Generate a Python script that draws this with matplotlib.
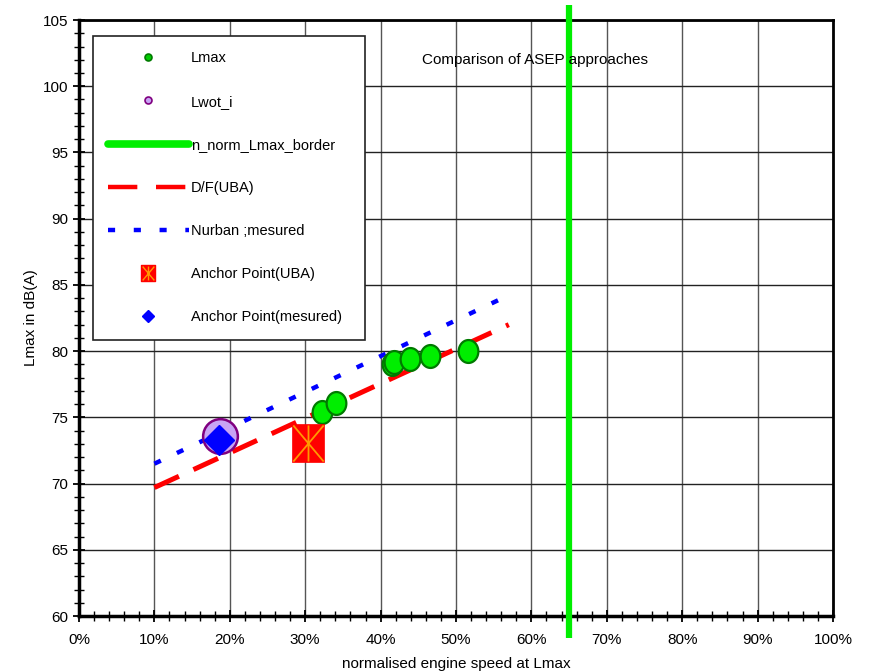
import numpy as np
import matplotlib
matplotlib.use("Agg")
import matplotlib.pyplot as plt
from matplotlib.path import Path
from matplotlib.lines import Line2D
from matplotlib.ticker import MultipleLocator, FuncFormatter

plt.rcParams['font.family'] = ['Liberation Sans', 'DejaVu Sans']

# --- data -------------------------------------------------------------
lmax_speed = [32.2, 34.1, 41.5, 41.8, 43.9, 46.6, 51.6]      # % normalised engine speed
lmax_level = [75.4, 76.1, 79.0, 79.2, 79.4, 79.6, 80.0]      # dB(A)

lwot_speed = [18.7]
lwot_level = [73.6]

border_speed = 65.0                                           # n_norm_Lmax_border

uba_speed = [10.0, 57.0]                                      # D/F(UBA) line
uba_level = [69.7, 82.0]

nurban_speed = [10.0, 55.8]                                   # Nurban ;mesured line
nurban_level = [71.5, 83.9]

anchor_uba_speed = [30.4]
anchor_uba_level = [73.1]

anchor_meas_speed = [18.6]
anchor_meas_level = [73.3]

# --- marker shapes ----------------------------------------------------
t = np.linspace(0, 2 * np.pi, 60)
ellipse = Path(np.column_stack([0.86 * np.cos(t), np.sin(t)]), closed=True)
rect = Path([[-0.42, -0.5], [0.42, -0.5], [0.42, 0.5], [-0.42, 0.5], [-0.42, -0.5]], closed=True)
star = Path([[-0.42, 0.5], [0.42, -0.5], [0.42, 0.5], [-0.42, -0.5], [0, 0.5], [0, -0.5]],
            [Path.MOVETO, Path.LINETO, Path.MOVETO, Path.LINETO, Path.MOVETO, Path.LINETO])

fig = plt.figure(figsize=(8.69, 6.72), dpi=100)
ax = fig.add_axes([0.0909, 0.0833, 0.8677, 0.8869])

ax.set_xlim(0, 100)
ax.set_ylim(60, 105)

# grid
ax.xaxis.set_major_locator(MultipleLocator(10))
ax.xaxis.set_minor_locator(MultipleLocator(2))
ax.yaxis.set_major_locator(MultipleLocator(5))
ax.yaxis.set_minor_locator(MultipleLocator(1))
ax.xaxis.grid(True, which='major', color='#555555', lw=1.0)
ax.yaxis.grid(True, which='major', color='#222222', lw=1.0)
ax.set_axisbelow(True)

ax.xaxis.set_major_formatter(FuncFormatter(lambda v, p: f"{v:.0f}%"))
ax.tick_params(which='major', direction='inout', length=9, width=1.3, labelsize=11, pad=8)
ax.tick_params(which='minor', direction='inout', length=7, width=1.0)
ax.tick_params(axis='y', pad=3)
for side in ['left', 'bottom']:
    ax.spines[side].set_linewidth(2.5)
for side in ['top', 'right']:
    ax.spines[side].set_linewidth(2.0)

# lines
ax.axvline(border_speed, ymin=-0.037, ymax=1.025, color='#00ee00', lw=4.5,
           solid_capstyle='butt', clip_on=False, zorder=3)
ax.plot(uba_speed, uba_level, color='#ff0000', lw=3.6, dashes=(5.4, 3.2), zorder=3)
ax.plot(nurban_speed, nurban_level, color='#0000ff', lw=3.2, dashes=(1.6, 4.0), zorder=3)

# points
ax.plot(lmax_speed, lmax_level, ls='none', marker=ellipse, ms=16.5,
        mfc='#00ee00', mec='#007a00', mew=1.6, zorder=4)
ax.plot(lwot_speed, lwot_level, ls='none', marker='o', ms=25,
        mfc='#c8a4f4', mec='#800080', mew=1.8, zorder=4)
ax.plot(anchor_meas_speed, anchor_meas_level, ls='none', marker='D', ms=15.5,
        mfc='#0000ff', mec='#0000ff', zorder=5)
ax.plot(anchor_uba_speed, anchor_uba_level, ls='none', marker=rect, ms=28,
        mfc='#ff0000', mec='#ff0000', mew=0.5, zorder=4)
ax.plot(anchor_uba_speed, anchor_uba_level, ls='none', marker=star, ms=26,
        mfc='none', mec='#ff9900', mew=1.3, zorder=5)

ax.text(60.5, 102, "Comparison of ASEP approaches", ha='center', va='center', fontsize=11)

ax.set_xlabel("normalised engine speed at Lmax", fontsize=11, labelpad=7)
ax.set_ylabel("Lmax in dB(A)", fontsize=11, labelpad=4)

# legend
h_lmax = Line2D([], [], ls='none', marker='o', ms=5, mfc='#00cc00', mec='#007a00', mew=1.2)
h_lwot = Line2D([], [], ls='none', marker='o', ms=5, mfc='#c8a4f4', mec='#800080', mew=1.2)
h_border = Line2D([], [], color='#00ee00', lw=5.5, solid_capstyle='round')
h_uba = Line2D([], [], color='#ff0000', lw=3.2, dashes=(6.6, 4.2))
h_nur = Line2D([], [], color='#0000ff', lw=3.2, dashes=(1.6, 4.2))
h_anc_sq = Line2D([], [], ls='none', marker=rect, ms=12, mfc='#ff0000', mec='#ff0000')
h_anc_st = Line2D([], [], ls='none', marker=star, ms=10, mfc='none', mec='#ff9900', mew=1.0)
h_meas = Line2D([], [], ls='none', marker='D', ms=6.5, mfc='#0000ff', mec='#0000ff')

leg = ax.legend([h_lmax, h_lwot, h_border, h_uba, h_nur, (h_anc_sq, h_anc_st), h_meas],
                ["Lmax", "Lwot_i", "n_norm_Lmax_border", "D/F(UBA)", "Nurban ;mesured",
                 "Anchor Point(UBA)", "Anchor Point(mesured)"],
                loc='upper left', bbox_to_anchor=(0.0186, 0.4564, 0.3607, 0.5166),
                mode='expand', fontsize=10.5,
                handlelength=5.5, handletextpad=0.15, labelspacing=2.0,
                borderpad=1.05, borderaxespad=0, fancybox=False, framealpha=1,
                edgecolor='#222222')
leg.get_frame().set_linewidth(1.2)
leg.set_zorder(6)

fig.savefig("out.png", dpi=100)
